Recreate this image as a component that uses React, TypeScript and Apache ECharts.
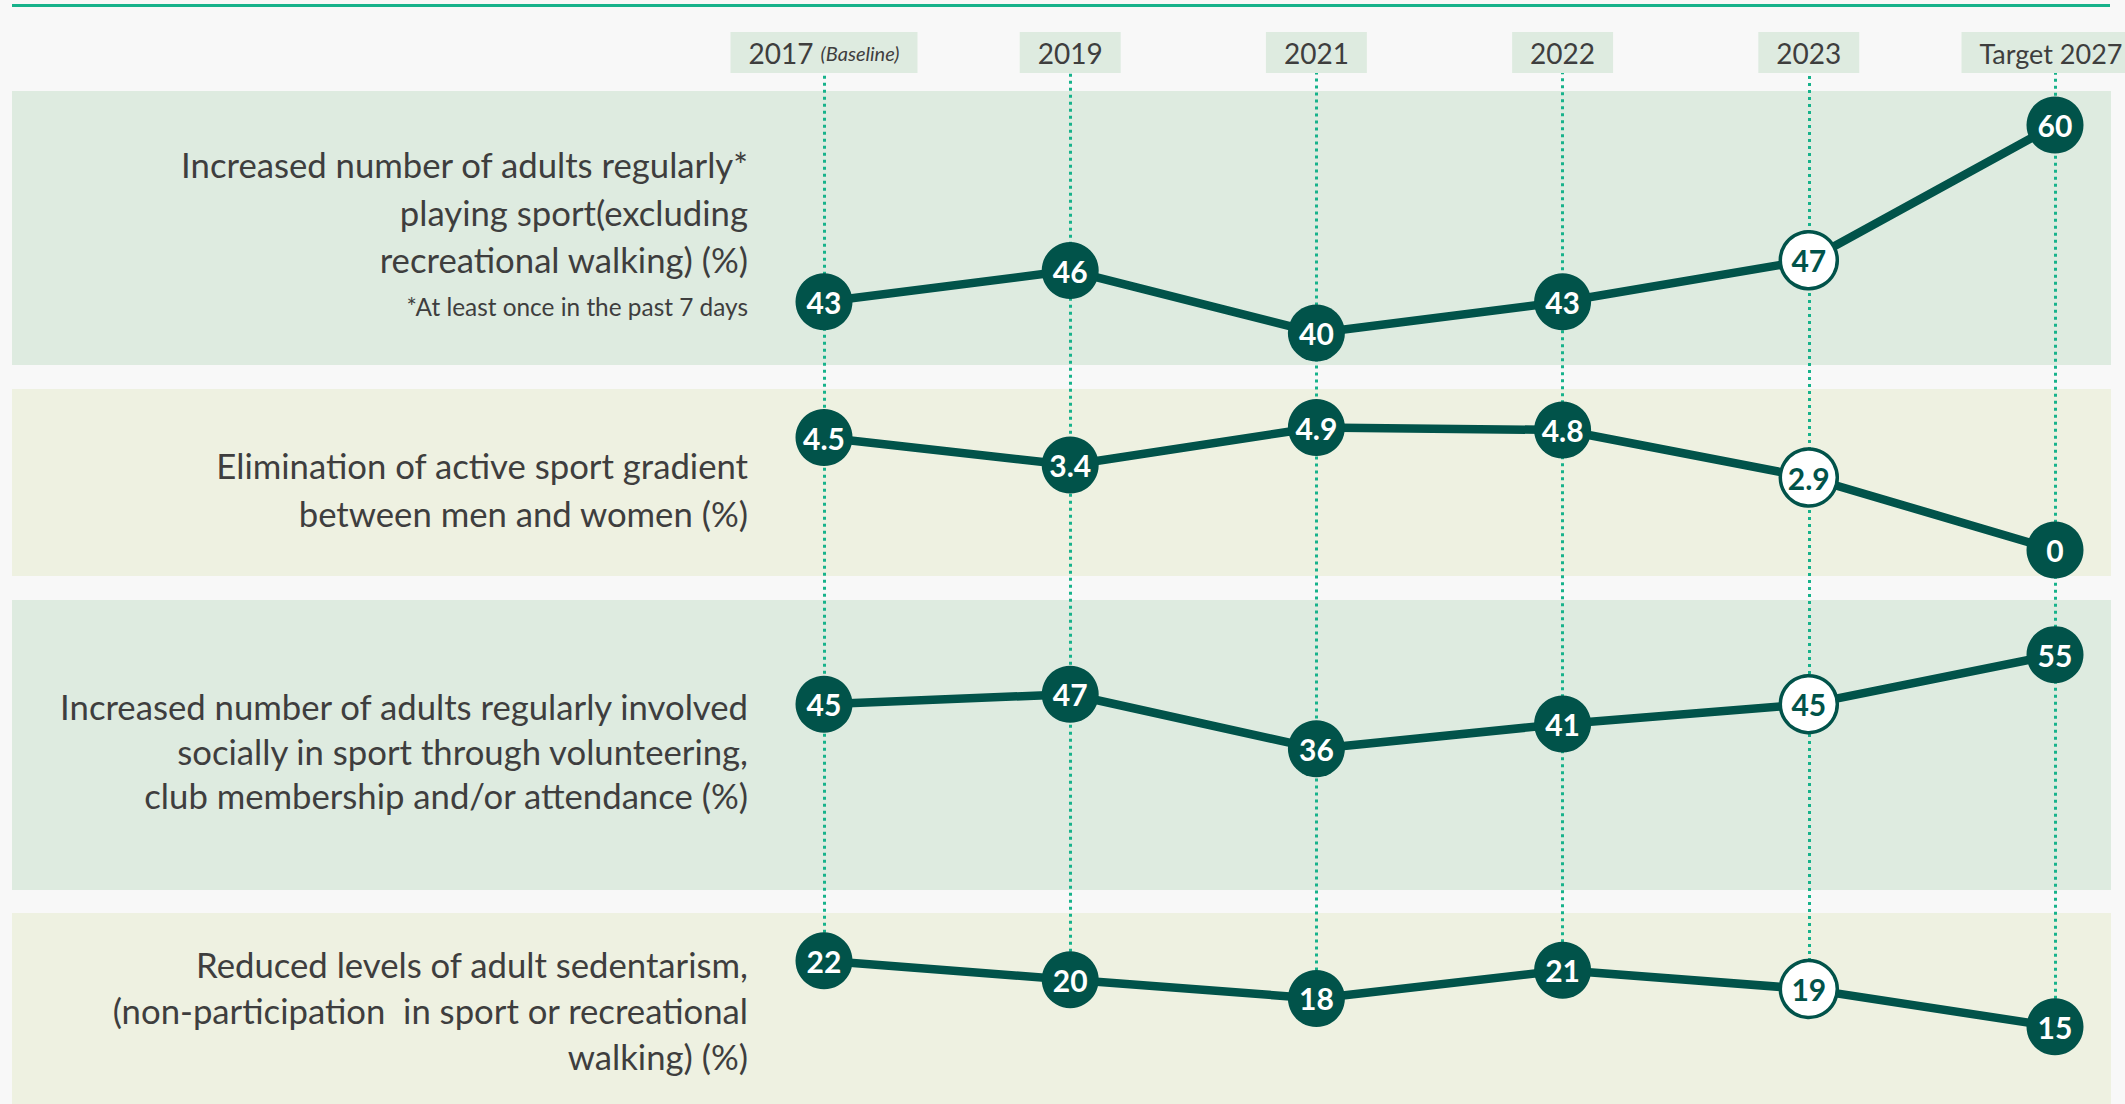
import React, { useEffect, useRef } from "react";
import * as echarts from "echarts";

// ---- Data ----
const years = ["2017", "2019", "2021", "2022", "2023", "Target 2027"];
const sportParticipation = [43, 46, 40, 43, 47, 60];
const genderGradient = [4.5, 3.4, 4.9, 4.8, 2.9, 0];
const socialInvolvement = [45, 47, 36, 41, 45, 55];
const sedentarism = [22, 20, 18, 21, 19, 15];
const baselineNote = "(Baseline)";
const latestMeasuredIndex = 4; // 2023, drawn as an open circle

const panelTitles = [
  "Increased number of adults regularly*\nplaying sport(excluding\nrecreational walking) (%)",
  "Elimination of active sport gradient\nbetween men and women (%)",
  "Increased number of adults regularly involved\nsocially in sport through volunteering,\nclub membership and/or attendance (%)",
  "Reduced levels of adult sedentarism,\n(non-participation  in sport or recreational\nwalking) (%)",
];
const footnote = "*At least once in the past 7 days";

const panelSeries = [sportParticipation, genderGradient, socialInvolvement, sedentarism];

// ---- Layout / style ----
const W = 2125;
const H = 1104;
const DARK = "#01534a";
const TEAL = "#17b28b";
const TEXT = "#3e3e3e";
const BAND_A = "#deebe0";
const BAND_B = "#eef1e1";
const FONT = "Lato, 'Open Sans', sans-serif";

const bands = [
  { y: 91, h: 274, fill: BAND_A },
  { y: 389, h: 187, fill: BAND_B },
  { y: 600, h: 290, fill: BAND_A },
  { y: 913, h: 191, fill: BAND_B },
];
const grids = [
  { top: 91, height: 274 },
  { top: 389, height: 187 },
  { top: 600, height: 290 },
  { top: 73, height: 1031 },
];
const yMin = [36.92, -1.04, 7.46, 6.8];
const yMax = [63.27, 6.44, 66.04, 116.25];
const titleLayout = [
  { y: 212, lh: 47.5 },
  { y: 489, lh: 48 },
  { y: 751, lh: 44.5 },
  { y: 1010, lh: 46 },
];

export default function App() {
  const ref = useRef<HTMLDivElement>(null);

  useEffect(() => {
    document.body.style.margin = "0";
    if (!ref.current) return;
    const chart = echarts.init(ref.current, null, { renderer: "svg" });

    const graphics: any[] = [];
    graphics.push({
      type: "rect",
      z: 0,
      shape: { x: 12, y: 4, width: 2098, height: 3 },
      style: { fill: TEAL },
      silent: true,
    });
    bands.forEach((b) =>
      graphics.push({
        type: "rect",
        z: 0,
        shape: { x: 12, y: b.y, width: 2099, height: b.h },
        style: { fill: b.fill },
        silent: true,
      })
    );
    panelTitles.forEach((t, i) =>
      graphics.push({
        type: "text",
        z: 5,
        x: 748,
        y: titleLayout[i].y,
        style: {
          text: t,
          align: "right",
          verticalAlign: "middle",
          fontFamily: FONT,
          fontSize: 34.7,
          lineHeight: titleLayout[i].lh,
          fill: TEXT,
        },
        silent: true,
      })
    );
    graphics.push({
      type: "text",
      z: 5,
      x: 748,
      y: 306,
      style: {
        text: footnote,
        align: "right",
        verticalAlign: "middle",
        fontFamily: FONT,
        fontSize: 24.4,
        fill: TEXT,
      },
      silent: true,
    });

    const series: any[] = panelSeries.map((vals, i) => ({
      type: "line",
      xAxisIndex: i,
      yAxisIndex: i,
      z: 3,
      symbol: "circle",
      symbolSize: 57,
      lineStyle: { color: DARK, width: 8.5 },
      itemStyle: { color: DARK },
      emphasis: { disabled: true },
      label: {
        show: true,
        position: "inside",
        color: "#ffffff",
        fontFamily: FONT,
        fontSize: 30,
        fontWeight: "bold",
        formatter: (p: any) => String(p.value),
      },
      data: vals.map((v, k) =>
        k === latestMeasuredIndex
          ? {
              value: v,
              itemStyle: { color: "#ffffff", borderColor: DARK, borderWidth: 3.5 },
              label: { color: DARK },
            }
          : { value: v }
      ),
    }));

    series.push({
      type: "line",
      xAxisIndex: 3,
      yAxisIndex: 3,
      z: 1,
      symbol: "none",
      showSymbol: false,
      lineStyle: { opacity: 0 },
      silent: true,
      data: sedentarism,
      markLine: {
        z: 1,
        silent: true,
        symbol: ["none", "none"],
        animation: false,
        label: { show: false },
        lineStyle: { color: TEAL, width: 3, type: [3, 4] },
        emphasis: { disabled: true },
        data: years.map((y, k) => [
          { coord: [y, sedentarism[k]] },
          { coord: [y, yMax[3]] },
        ]),
      },
    });

    const lastYear = years[years.length - 1];

    const option: any = {
      animation: false,
      backgroundColor: "#f8f8f8",
      graphic: { elements: graphics },
      grid: grids.map((g) => ({
        left: 824,
        right: 70,
        top: g.top,
        height: g.height,
        containLabel: false,
        outerBoundsMode: "none",
      })),
      xAxis: grids.map((_, i) => ({
        type: "category",
        gridIndex: i,
        data: years,
        boundaryGap: false,
        show: i === 3,
        position: "top",
        axisLine: { show: false },
        axisTick: { show: false },
        splitLine: { show: false },
        axisLabel: {
          show: i === 3,
          interval: 0,
          margin: 0,
          hideOverlap: false,
          color: TEXT,
          fontFamily: FONT,
          fontSize: 28,
          lineHeight: 30,
          backgroundColor: BAND_A,
          padding: [6, 18, 5, 18],
          formatter: (v: string) =>
            v === years[0]
              ? `{y|${v}} {n|${baselineNote}}`
              : v === lastYear
              ? `{t|${v}}`
              : `{y|${v}}`,
          rich: {
            y: { fontFamily: FONT, fontSize: 28, color: TEXT, lineHeight: 30 },
            t: {
              fontFamily: FONT,
              fontSize: 27,
              color: TEXT,
              lineHeight: 30,
              padding: [0, 8, 0, 0],
            },
            n: {
              fontFamily: FONT,
              fontSize: 20,
              fontStyle: "italic",
              color: TEXT,
              lineHeight: 30,
            },
          },
        },
      })),
      yAxis: grids.map((_, i) => ({
        type: "value",
        gridIndex: i,
        min: yMin[i],
        max: yMax[i],
        show: false,
        splitLine: { show: false },
      })),
      series,
    };

    chart.setOption(option);
    return () => chart.dispose();
  }, []);

  return (
    <div
      ref={ref}
      style={{ position: "fixed", left: 0, top: 0, width: W, height: H }}
    />
  );
}
